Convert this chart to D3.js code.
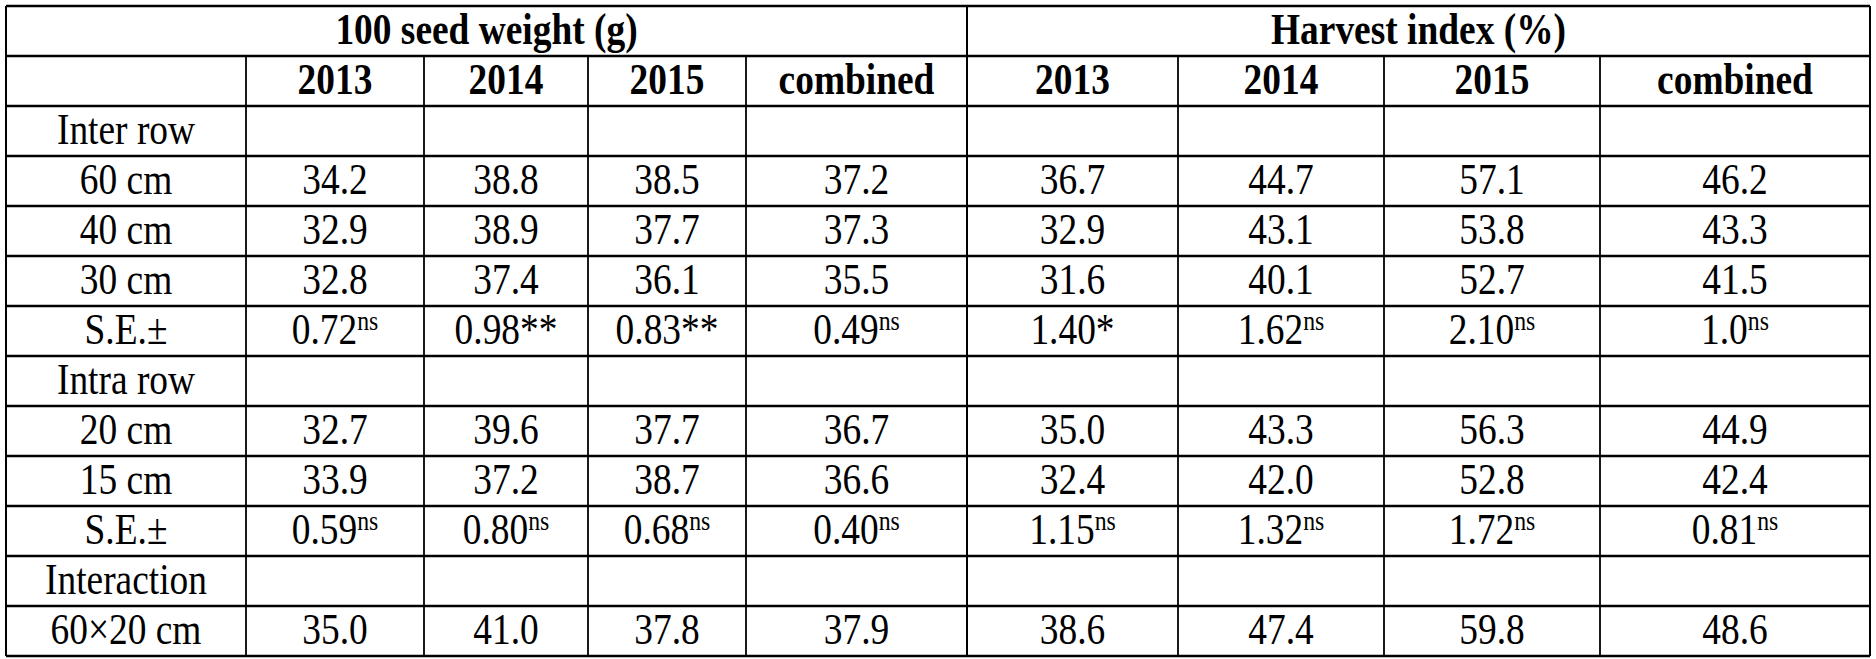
<!DOCTYPE html>
<html><head><meta charset="utf-8">
<script src="https://cdn.jsdelivr.net/npm/d3@7"></script>
<style>body{margin:0;background:#fff} text{font-family:"Liberation Serif","Tinos","Times New Roman","DejaVu Serif",serif;}</style></head>
<body><svg id="c" width="1876" height="659"></svg>
<script>
const groups = ["100 seed weight (g)", "Harvest index (%)"];
const subHeaders = ["2013","2014","2015","combined","2013","2014","2015","combined"];
const rowLabels = ["Inter row","60 cm","40 cm","30 cm","S.E.±","Intra row","20 cm","15 cm","S.E.±","Interaction","60×20 cm"];
// each cell: value|superscript
const rowValues = [
  null,
  ["34.2","38.8","38.5","37.2","36.7","44.7","57.1","46.2"],
  ["32.9","38.9","37.7","37.3","32.9","43.1","53.8","43.3"],
  ["32.8","37.4","36.1","35.5","31.6","40.1","52.7","41.5"],
  ["0.72|ns","0.98**","0.83**","0.49|ns","1.40*","1.62|ns","2.10|ns","1.0|ns"],
  null,
  ["32.7","39.6","37.7","36.7","35.0","43.3","56.3","44.9"],
  ["33.9","37.2","38.7","36.6","32.4","42.0","52.8","42.4"],
  ["0.59|ns","0.80|ns","0.68|ns","0.40|ns","1.15|ns","1.32|ns","1.72|ns","0.81|ns"],
  null,
  ["35.0","41.0","37.8","37.9","38.6","47.4","59.8","48.6"]
];
const colEdges = [6,246,424,588,746,967,1178,1384,1600,1870];

const svg = d3.select("#c");
const nRows = 2 + rowLabels.length;
const y = d3.scaleLinear().domain([0, nRows]).range([6, 656]);
const g = svg.append("g");

g.selectAll("line.h").data(d3.range(nRows+1)).join("line")
  .attr("x1", colEdges[0]).attr("x2", colEdges[9])
  .attr("y1", d=>y(d)).attr("y2", d=>y(d))
  .attr("stroke","#000").attr("stroke-width",2.5);
[0,5,9].forEach(i=>g.append("line").attr("x1",colEdges[i]).attr("x2",colEdges[i])
  .attr("y1",y(0)).attr("y2",y(nRows)).attr("stroke","#000").attr("stroke-width",2));
[1,2,3,4,6,7,8].forEach(i=>g.append("line").attr("x1",colEdges[i]).attr("x2",colEdges[i])
  .attr("y1",y(1)).attr("y2",y(nRows)).attr("stroke","#000").attr("stroke-width",1.8));

function txt(x, row, s, bold){
  const t = g.append("text").attr("x",0).attr("y",0)
    .attr("transform",`translate(${x},${y(row)+38}) scale(0.85,1)`)
    .attr("text-anchor","middle")
    .attr("font-size",44).attr("font-weight",bold?"bold":"normal").attr("fill","#000");
  const parts = s.split("|");
  t.append("tspan").text(parts[0]);
  if(parts[1]) t.append("tspan").attr("font-size",28).attr("dy",-14).text(parts[1]);
}
const mid = i => (colEdges[i]+colEdges[i+1])/2;
txt((colEdges[0]+colEdges[5])/2, 0, groups[0], true);
txt((colEdges[5]+colEdges[9])/2, 0, groups[1], true);
subHeaders.forEach((h,i)=>txt(mid(i+1), 1, h, true));
rowLabels.forEach((l,r)=>{
  txt(mid(0), r+2, l, false);
  if(rowValues[r]) rowValues[r].forEach((v,i)=>txt(mid(i+1), r+2, v, false));
});
</script></body></html>
